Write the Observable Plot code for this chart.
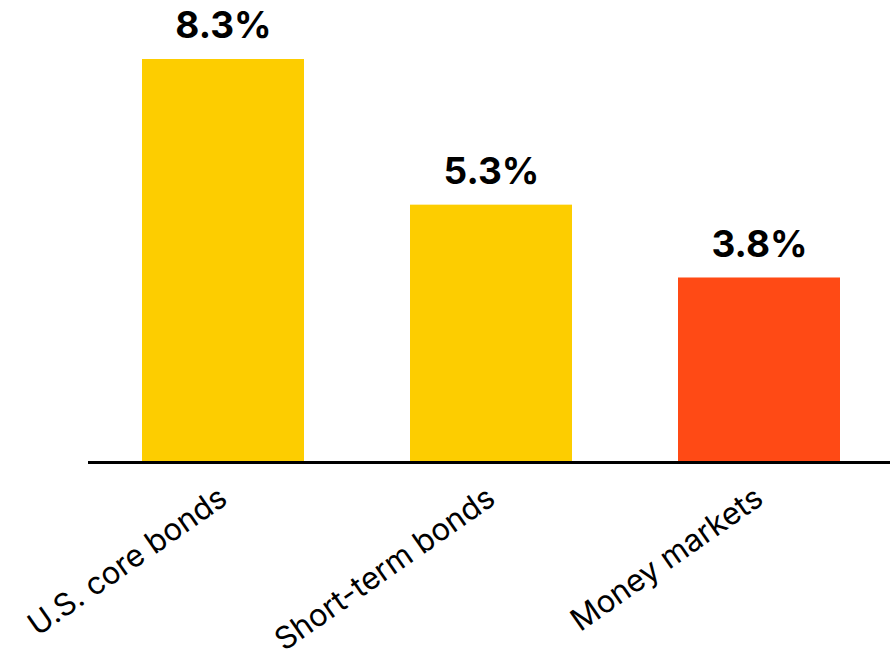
<!DOCTYPE html>
<html>
<head>
<meta charset="utf-8">
<script src="https://cdn.jsdelivr.net/npm/d3@7"></script>
<script src="https://cdn.jsdelivr.net/npm/@observablehq/plot@0.6"></script>
<style>
body { margin: 0; background: #fff; }
#chart svg { display: block; }
</style>
</head>
<body>
<div id="chart"></div>
<script>
const categories = ["U.S. core bonds", "Short-term bonds", "Money markets"];
const values = [8.3, 5.3, 3.8];
const colors = ["#FDCD00", "#FDCD00", "#FF4A15"];
const valueLabels = ["8.3%", "5.3%", "3.8%"];

const data = categories.map((c, i) => ({name: c, value: values[i], color: colors[i], label: valueLabels[i]}));

const chart = Plot.plot({
  width: 890,
  height: 651,
  marginLeft: 88,
  marginRight: 0,
  marginTop: 59,
  marginBottom: 189,
  style: {fontFamily: "Inter, 'Open Sans', sans-serif", background: "#fff"},
  x: {domain: categories, range: [90, 892], paddingInner: 0.3966, paddingOuter: 0.192, label: null},
  y: {domain: [0, 8.3], axis: null},
  marks: [
    Plot.barY(data, {x: "name", y: "value", fill: "color"}),
    Plot.ruleY([0], {stroke: "#000", strokeWidth: 3}),
    Plot.text(data, {x: "name", y: "value", text: "label", dy: -33, fontSize: 37, fontWeight: 700, fill: "#000"}),
    Plot.axisX({tickSize: 0, tickPadding: 32, tickRotate: -35, fontSize: 31, fill: "#000", label: null})
  ]
});
document.getElementById("chart").appendChild(chart);
</script>
</body>
</html>
